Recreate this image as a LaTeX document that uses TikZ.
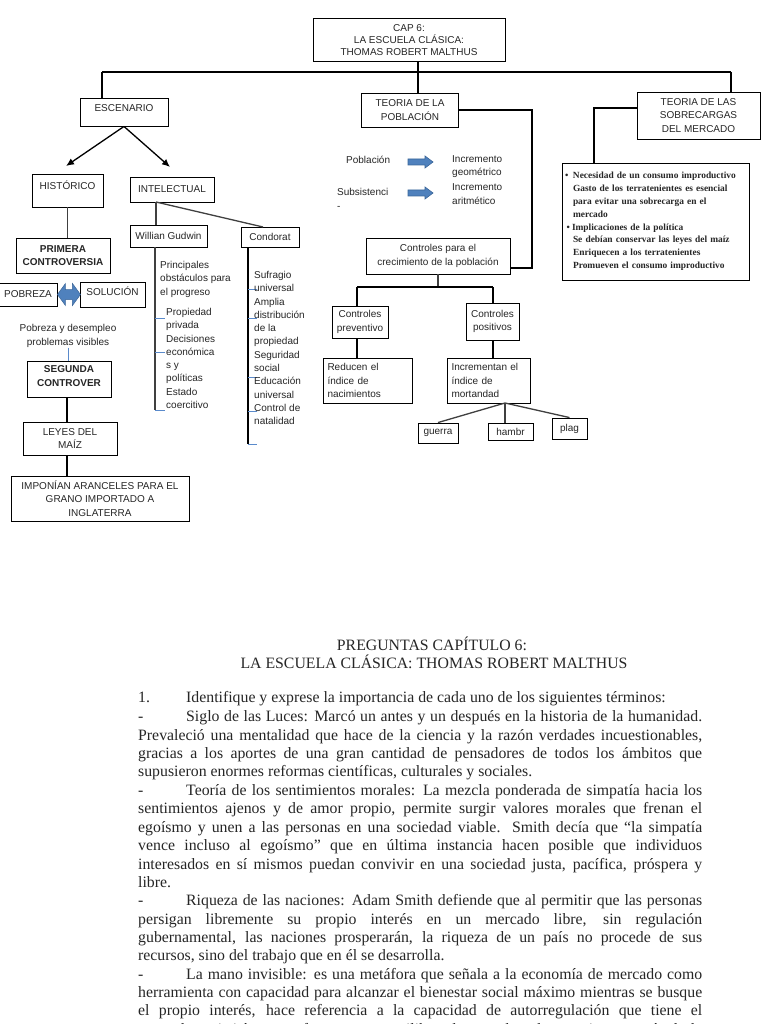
\documentclass[tikz,border=0pt]{standalone}
\usepackage{fontspec}
\setmainfont{Liberation Serif}
\setsansfont{Liberation Sans}
\usetikzlibrary{arrows.meta,calc}
\definecolor{ablue}{HTML}{4F81BD}
\definecolor{ablued}{HTML}{3B6699}
\definecolor{tickblue}{HTML}{5A8ACB}
\definecolor{txt}{HTML}{262626}
\newcommand\dfont{\sffamily\fontsize{10}{13.3}\selectfont}
\newcommand\tfont{\sffamily\fontsize{10}{12}\selectfont}
\newcommand\bfontx{\rmfamily\bfseries\fontsize{9.4}{12.8}\selectfont}
\newcommand\bodyfont{\rmfamily\fontsize{15.8}{18.4}\selectfont}
\newcommand\jl[3]{\node[body] (#1) at (138,#2) {\makebox[564pt][s]{#3}};}
\newcommand\il[3]{\node[body] (#1) at (138,#2) {-};\node[body] (#1b) at (186,#2) {\makebox[516pt][s]{#3}};}
\newcommand\fatarrow[1]{\draw[fill=ablue,draw=ablued,line width=0.6pt] (#1) ++(0,-3) -- ++(17,0) -- ++(0,-3) -- ++(8,6) -- ++(-8,6) -- ++(0,-3) -- ++(-17,0) -- cycle;}
\tikzset{
 box/.style={draw=black, line width=0.9pt, font=\dfont, align=center, inner sep=1pt, text=txt},
 conn/.style={line width=2pt, black},
 thinc/.style={line width=1.3pt, black!75},
 tick/.style={line width=1pt, tickblue},
 lab/.style={font=\dfont, align=left, inner sep=0pt, text=txt},
 raiseby/.style={text depth=#1},
 body/.style={anchor=base west, inner sep=0pt, font=\bodyfont, text=txt},
}
\begin{document}
\begin{tikzpicture}[x=1pt,y=-1pt]
\useasboundingbox (0,0) rectangle (768,1024);
\clip (0,0) rectangle (768,1024);
\fill[white] (0,0) rectangle (768,1024);

% ---------- top ----------
\node[box, minimum width=192pt, minimum height=43pt, font=\tfont] (cap) at (409,40) {CAP 6:\\LA ESCUELA CLÁSICA:\\THOMAS ROBERT MALTHUS};
\coordinate (hl) at (102,72);
\coordinate (hm) at (417.5,72);
\coordinate (hr) at (731,72);
\node[box, minimum width=88pt, minimum height=28pt, raiseby=8pt] (esc) at (124,112) {ESCENARIO};
\node[box, minimum width=97pt, minimum height=34pt] (pob) at (410,110) {TEORIA DE LA\\POBLACIÓN};
\node[box, minimum width=123pt, minimum height=47pt] (sob) at (698.5,115.5) {TEORIA DE LAS\\SOBRECARGAS\\DEL MERCADO};
\draw[conn] (hl) -- (hr);
\draw[conn] (hm |- cap.south) -- (hm);
\draw[conn] (hl) -- (hl |- esc.north);
\draw[conn] (hm) -- (hm |- pob.north);
\draw[conn] (hr) -- (hr |- sob.north);

% ---------- escenario ----------
\coordinate (tH) at (66,166);
\coordinate (tI) at (170,167);
\draw[line width=1.3pt, -{Latex[length=8pt,width=7pt]}] (esc.south) -- (tH);
\draw[line width=1.3pt, -{Latex[length=8pt,width=7pt]}] (esc.south) -- (tI);

\node[box, minimum width=71pt, minimum height=33pt, raiseby=10pt] (his) at (67.5,190.5) {HISTÓRICO};
\node[box, minimum width=84pt, minimum height=25pt] (int) at (172,189.5) {INTELECTUAL};
\node[box, minimum width=94pt, minimum height=35pt, font=\dfont\bfseries] (prim) at (63,255.5) {PRIMERA\\CONTROVERSIA};
\draw[thinc] (his.south) -- (his.south |- prim.north);

\node[box, minimum width=58pt, minimum height=23pt] (pobre) at (28,294.5) {POBREZA};
\node[box, minimum width=65pt, minimum height=25pt, raiseby=6pt] (sol) at (112.5,294.5) {SOLUCIÓN};
\draw[fill=ablue, draw=ablued, line width=0.5pt] (pobre.east) -- ++(8,-11) -- ++(0,6) -- ++(7,0) -- ++(0,-6) -- ++(8,11) -- ++(-8,11) -- ++(0,-6) -- ++(-7,0) -- ++(0,6) -- cycle;

\node[lab, align=center] (ptxt) at (68,336) {Pobreza y desempleo\\problemas visibles};
\node[box, minimum width=84pt, minimum height=36pt, font=\dfont\bfseries, raiseby=6pt] (seg) at (69,379) {SEGUNDA\\CONTROVER};
\draw[tick] (ptxt.south) -- (ptxt.south |- seg.north);
\node[box, minimum width=94pt, minimum height=33pt] (ley) at (70,438.5) {LEYES DEL\\MAÍZ};
\node[box, minimum width=178pt, minimum height=45pt] (imp) at (100,498.5) {IMPONÍAN ARANCELES PARA EL\\GRANO IMPORTADO A\\INGLATERRA};
\coordinate (sx) at (67,0);
\draw[conn] (sx |- seg.south) -- (sx |- ley.north);
\draw[conn] (sx |- ley.south) -- (sx |- imp.north);

% ---------- intelectual ----------
\node[box, minimum width=77pt, minimum height=22pt] (gud) at (168.5,236) {Willian Gudwin};
\node[box, minimum width=58pt, minimum height=20pt] (con) at (270,237) {Condorat};
\coordinate (ib) at (156,202);
\coordinate (ct) at (263,227);
\draw[thinc] (ib) -- (ib |- gud.north);
\draw[thinc] (ib) -- (ct);

\coordinate (g0) at (155,247);
\coordinate (g1) at (155,410);
\draw[thinc] (g0) -- (g1);
\foreach \y in {318,352,410} \draw[tick] (155,\y) -- (165,\y);
\coordinate (c0) at (248,247);
\coordinate (c1) at (248,444);
\draw[conn] (c0) -- (c1);
\foreach \y in {289,318,377,411,444} \draw[tick] (248,\y) -- (257,\y);

\node[lab, anchor=north west] (gt1) at (160,261) {Principales\\obstáculos para\\el progreso};
\node[lab, anchor=north west] (gt2) at (166,308) {Propiedad\\privada\\Decisiones\\económica\\s y\\políticas\\Estado\\coercitivo};
\node[lab, anchor=north west] (ct1) at (254,271) {Sufragio\\universal\\Amplia\\distribución\\de la\\propiedad\\Seguridad\\social\\Educación\\universal\\Control de\\natalidad};

% ---------- poblacion ----------
\node[lab, anchor=west] (pl) at (346,160) {Población};
\node[lab, anchor=west] (ig) at (452,166.5) {Incremento\\geométrico};
\node[lab, anchor=west] (ss) at (337,199) {Subsistenci\\-};
\node[lab, anchor=west] (ia) at (452,194) {Incremento\\aritmético};
\coordinate (a1) at (408,162);
\coordinate (a2) at (408,193);
\fatarrow{a1}
\fatarrow{a2}

\node[box, minimum width=144pt, minimum height=36pt] (ctrl) at (438,256) {Controles para el\\crecimiento de la población};
\coordinate (pr) at (532,268);
\draw[conn] (pob.east) -| (pr) -- (pr -| ctrl.east);

\node[box, minimum width=56pt, minimum height=32pt] (prev) at (360,322) {Controles\\preventivo};
\node[box, minimum width=53pt, minimum height=37pt] (pos) at (492.5,321.5) {Controles\\positivos};
\coordinate (bl) at (357,287);
\coordinate (br) at (493,287);
\draw[thinc] (ctrl.south) -- (ctrl.south |- bl);
\draw[conn] (bl) -- (br);
\draw[conn] (bl) -- (bl |- prev.north);
\draw[conn] (br) -- (br |- pos.north);

\node[box, minimum width=89pt, minimum height=45pt, align=left, text width=80pt] (red) at (367.5,380.5) {Reducen el\\índice de\\nacimientos};
\node[box, minimum width=83pt, minimum height=45pt, align=left, text width=74pt] (inc) at (488.5,380.5) {Incrementan el\\índice de\\mortandad};
\draw[conn] (bl |- prev.south) -- (bl |- red.north);
\draw[conn] (br |- pos.south) -- (br |- inc.north);

\node[box, minimum width=40pt, minimum height=20pt] (gue) at (438,433) {guerra};
\node[box, minimum width=45pt, minimum height=17pt] (ham) at (510.5,431.5) {hambr};
\node[box, minimum width=35pt, minimum height=21pt] (plg) at (569.5,428.5) {plag};
\coordinate (fan) at (505,403);
\draw[thinc] (fan) -- (gue.north);
\draw[thinc] (fan) -- (fan |- ham.north);
\draw[thinc] (fan) -- (plg.north);

% ---------- sobrecargas ----------
\node[draw=black, line width=0.9pt, minimum width=187pt, minimum height=117pt, font=\bfontx, align=left, text width=181pt, inner sep=2pt, text=txt] (bul) at (655.5,221.5) {%
\makebox[8pt][l]{•}Necesidad de un consumo improductivo\\
\hspace*{8pt}Gasto de los terratenientes es esencial\\
\hspace*{8pt}para evitar una sobrecarga en el\\
\hspace*{8pt}mercado\\
\makebox[7pt][l]{\hspace{1.5pt}•}Implicaciones de la política\\
\hspace*{8pt}Se debían conservar las leyes del maíz\\
\hspace*{8pt}Enriquecen a los terratenientes\\
\hspace*{8pt}Promueven el consumo improductivo};
\coordinate (sr) at (594,108);
\draw[conn] (sob.west |- sr) -- (sr) -- (sr |- bul.north);

% ---------- text page ----------
\node[anchor=base, inner sep=0pt, font=\bodyfont, text=txt] (t1) at (432,650) {PREGUNTAS CAPÍTULO 6:};
\node[anchor=base, inner sep=0pt, font=\bodyfont, text=txt] (t2) at (434,668) {LA ESCUELA CLÁSICA: THOMAS ROBERT MALTHUS};

\node[body] (l1) at (138,702) {1.};
\node[body] (l1b) at (186,702) {Identifique y exprese la importancia de cada uno de los siguientes términos:};
\il{l2}{721}{Siglo de las Luces: Marcó un antes y un después en la historia de la humanidad.}
\jl{l3}{740}{Prevaleció una mentalidad que hace de la ciencia y la razón verdades incuestionables,}
\jl{l4}{758}{gracias a los aportes de una gran cantidad de pensadores de todos los ámbitos que}
\node[body] (l5) at (138,776) {supusieron enormes reformas científicas, culturales y sociales.};
\il{l6}{795}{Teoría de los sentimientos morales: La mezcla ponderada de simpatía hacia los}
\jl{l7}{813}{sentimientos ajenos y de amor propio, permite surgir valores morales que frenan el}
\jl{l8}{832}{egoísmo y unen a las personas en una sociedad viable. Smith decía que “la simpatía}
\jl{l9}{850}{vence incluso al egoísmo” que en última instancia hacen posible que individuos}
\jl{l10}{869}{interesados en sí mismos puedan convivir en una sociedad justa, pacífica, próspera y}
\node[body] (l11) at (138,887) {libre.};
\il{l12}{905}{Riqueza de las naciones: Adam Smith defiende que al permitir que las personas}
\jl{l13}{924}{persigan libremente su propio interés en un mercado libre, sin regulación}
\jl{l14}{942}{gubernamental, las naciones prosperarán, la riqueza de un país no procede de sus}
\node[body] (l15) at (138,960) {recursos, sino del trabajo que en él se desarrolla.};
\il{l16}{979}{La mano invisible: es una metáfora que señala a la economía de mercado como}
\jl{l17}{997}{herramienta con capacidad para alcanzar el bienestar social máximo mientras se busque}
\jl{l18}{1015}{el propio interés, hace referencia a la capacidad de autorregulación que tiene el}
\jl{l19}{1034}{mercado, existirían unas fuerzas que equilibra el mercado y los precios a través de la}
\end{tikzpicture}
\end{document}
